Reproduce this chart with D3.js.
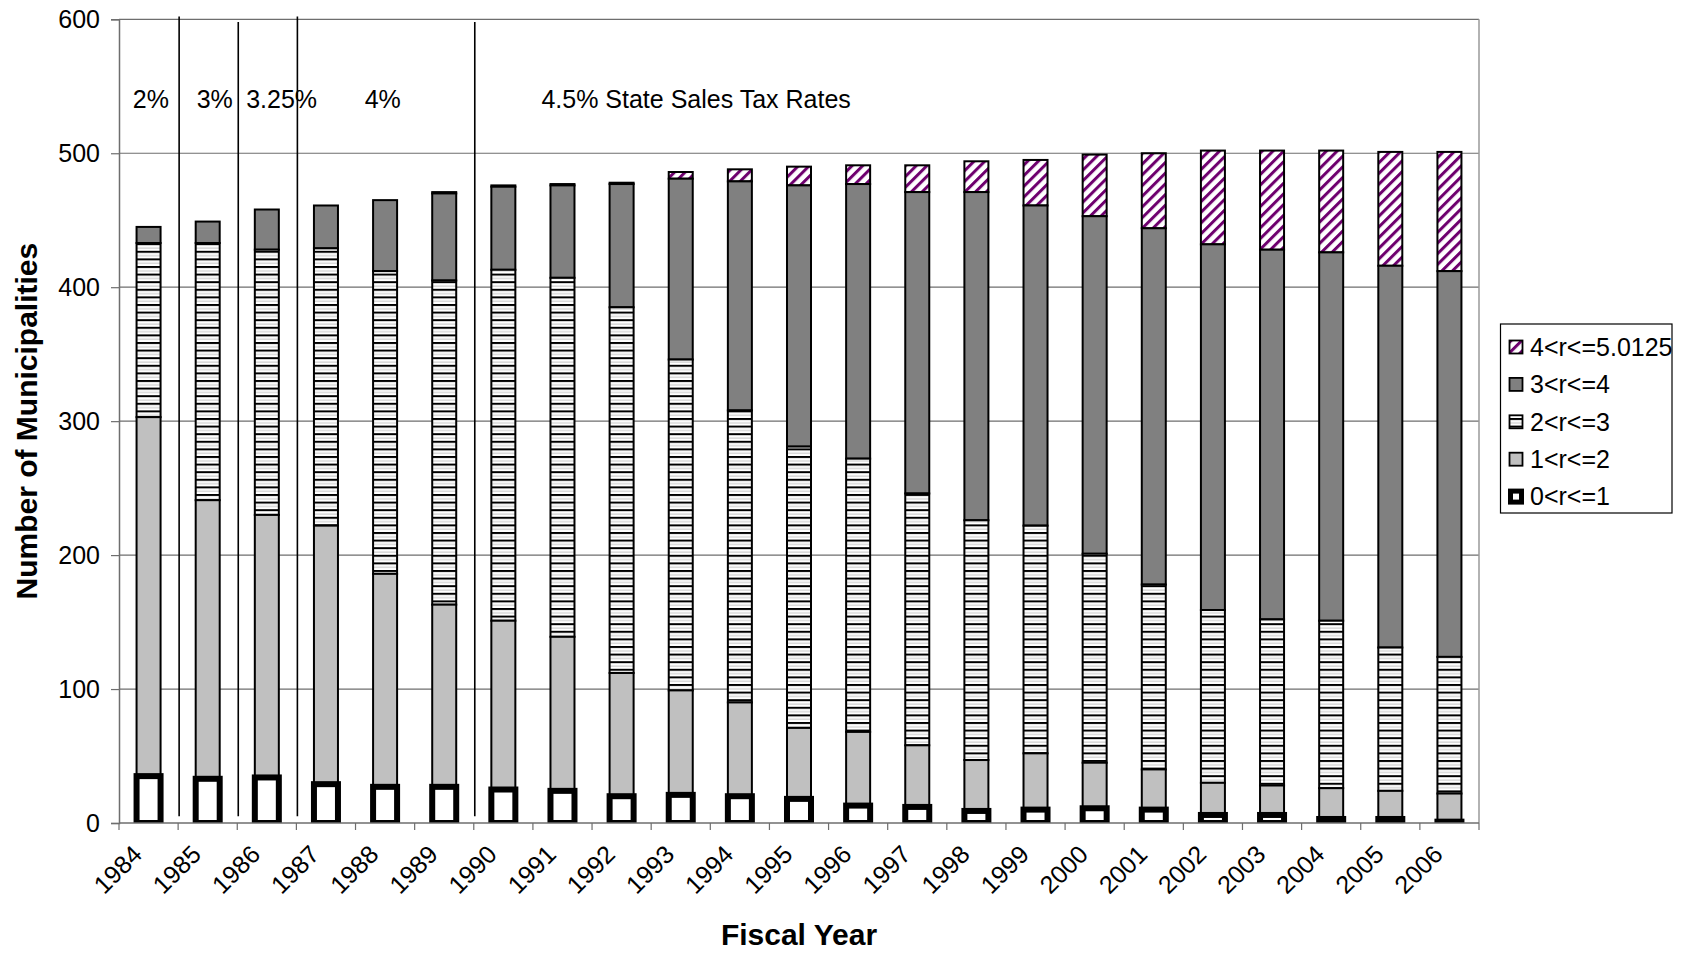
<!DOCTYPE html>
<html>
<head>
<meta charset="utf-8">
<script src="https://cdn.jsdelivr.net/npm/d3@7"></script>
<style>
  html, body { margin: 0; padding: 0; background: #fff; }
  svg { display: block; font-family: "Liberation Sans", Arial, sans-serif; }
</style>
</head>
<body>
<svg id="chart" width="1682" height="953"></svg>
<script>
// Fiscal years on the category axis
const years = ["1984","1985","1986","1987","1988","1989","1990","1991","1992","1993","1994","1995",
               "1996","1997","1998","1999","2000","2001","2002","2003","2004","2005","2006"];

// Number of municipalities in each local sales tax rate band (r, in percent)
const rate0to1 = [35,33,34,29,27,27,25,24,20,21,20,18,13,12,9,10,11,10,6,6,3,3,1];
const rate1to2 = [268,208,196,193,159,136,126,115,92,78,70,53,55,46,38,42,34,30,24,22,23,21,21];
const rate2to3 = [130,192,198,207,226,242,262,268,273,247,218,210,204,188,179,170,156,138,129,124,125,107,102];
const rate3to4 = [12,16,30,32,53,65,62,69,92,135,171,195,205,225,245,239,252,266,273,276,275,285,288];
const rate4to5 = [0,0,0,0,0,1,1,1,1,5,9,14,14,20,23,34,46,56,70,74,76,85,89];

const seriesKeys   = ["0<r<=1", "1<r<=2", "2<r<=3", "3<r<=4", "4<r<=5.0125"];
const seriesValues = [rate0to1, rate1to2, rate2to3, rate3to4, rate4to5];

// Y axis ticks
const yTicks = [0, 100, 200, 300, 400, 500, 600];

// State sales tax rate periods: separators drawn after these years, and period labels
const rateChangeAfter = ["1984", "1985", "1986", "1989"];
const separatorTop    = [602, 598, 602, 598];
const separatorBottom = 5;
const rateLabels      = ["2%", "3%", "3.25%", "4%", "4.5% State Sales Tax Rates"];
const rateLabelAt     = [0.04, 1.12, 2.25, 3.96, 9.26];   // position in category units
const rateLabelLevel  = 534;

// ---------------------------------------------------------------------------
const svg = d3.select("#chart");
const margin = { left: 119, right: 1479, top: 19.3, bottom: 823 };
const FONT = 25;

const table = years.map((y, i) => {
  const row = { year: y };
  seriesKeys.forEach((k, j) => row[k] = seriesValues[j][i]);
  return row;
});
const stacked = d3.stack().keys(seriesKeys)(table);

const x = d3.scaleBand()
  .domain(years)
  .range([margin.left, margin.right])
  .paddingInner(0.594)
  .paddingOuter(0.297);

const y = d3.scaleLinear()
  .domain([0, 600])
  .range([margin.bottom, margin.top]);

const step = x.step();
const catPos = u => margin.left + step * (u + 0.5);

// Fill patterns
const defs = svg.append("defs");

const hp = defs.append("pattern")
  .attr("id", "hstripe")
  .attr("patternUnits", "userSpaceOnUse")
  .attr("width", 8).attr("height", 7.6);
hp.append("rect").attr("width", 8).attr("height", 7.6).attr("fill", "#fff");
hp.append("rect").attr("y", 0).attr("width", 8).attr("height", 2).attr("fill", "#000");
hp.append("rect").attr("y", 4.4).attr("width", 8).attr("height", 0.9).attr("fill", "#bdbdbd");

const dp = defs.append("pattern")
  .attr("id", "dstripe")
  .attr("patternUnits", "userSpaceOnUse")
  .attr("width", 7.56).attr("height", 7.56)
  .attr("patternTransform", "rotate(45)");
dp.append("rect").attr("width", 7.56).attr("height", 7.56).attr("fill", "#fff");
dp.append("rect").attr("x", 0).attr("width", 3.0).attr("height", 7.56).attr("fill", "#6e006e");

defs.append("clipPath").attr("id", "plotClip")
  .append("rect")
  .attr("x", margin.left).attr("y", 0)
  .attr("width", margin.right - margin.left)
  .attr("height", margin.bottom);

const seriesStyle = {
  "0<r<=1":      { fill: "#ffffff", stroke: "#000", sw: 6 },
  "1<r<=2":      { fill: "#c0c0c0", stroke: "#000", sw: 2 },
  "2<r<=3":      { fill: "url(#hstripe)", stroke: "#000", sw: 2 },
  "3<r<=4":      { fill: "#808080", stroke: "#000", sw: 2 },
  "4<r<=5.0125": { fill: "url(#dstripe)", stroke: "#000", sw: 2 }
};

const axisColor = "#6e6e6e";

// Gridlines
svg.append("g")
  .selectAll("line")
  .data(yTicks.filter(t => t > 0))
  .join("line")
  .attr("x1", margin.left).attr("x2", margin.right)
  .attr("y1", d => y(d)).attr("y2", d => y(d))
  .attr("stroke", axisColor).attr("stroke-width", 1.2);

// Right border of the plot area
svg.append("line")
  .attr("x1", margin.right).attr("x2", margin.right)
  .attr("y1", y(600)).attr("y2", y(0))
  .attr("stroke", "#9a9a9a").attr("stroke-width", 1.5);

// Bars: drawn from the top band downwards so the heavy 0<r<=1 outline stays on top
const barLayer = svg.append("g").attr("clip-path", "url(#plotClip)");
stacked.slice().reverse().forEach(layer => {
  const st = seriesStyle[layer.key];
  barLayer.append("g")
    .selectAll("rect")
    .data(layer.filter(d => d[1] - d[0] > 0))
    .join("rect")
    .attr("x", d => x(d.data.year))
    .attr("width", x.bandwidth())
    .attr("y", d => y(d[1]))
    .attr("height", d => y(d[0]) - y(d[1]))
    .attr("fill", st.fill)
    .attr("stroke", st.stroke)
    .attr("stroke-width", st.sw);
});

// Y axis
const yAxis = svg.append("g")
  .attr("transform", `translate(${margin.left},0)`)
  .call(d3.axisLeft(y).tickValues(yTicks).tickSize(8).tickPadding(11).tickFormat(d3.format("d")));
yAxis.select(".domain").attr("stroke", axisColor).attr("stroke-width", 1.5);
yAxis.selectAll(".tick line").attr("stroke", axisColor).attr("stroke-width", 1.2);
yAxis.selectAll(".tick text")
  .attr("font-size", FONT).attr("fill", "#000")
  .attr("font-family", "Liberation Sans, Arial, sans-serif");

// X axis: ticks sit between categories, labels at the category centres
const xAxisG = svg.append("g");
xAxisG.append("line")
  .attr("x1", margin.left).attr("x2", margin.right)
  .attr("y1", y(0)).attr("y2", y(0))
  .attr("stroke", axisColor).attr("stroke-width", 1.5);
xAxisG.selectAll("line.tick")
  .data(d3.range(years.length + 1))
  .join("line")
  .attr("class", "tick")
  .attr("x1", i => margin.left + i * step).attr("x2", i => margin.left + i * step)
  .attr("y1", y(0)).attr("y2", y(0) + 7)
  .attr("stroke", axisColor).attr("stroke-width", 1.2);
xAxisG.selectAll("text")
  .data(years)
  .join("text")
  .attr("transform", d => `translate(${x(d) + x.bandwidth() / 2 - 5},${y(0) + 33}) rotate(-45)`)
  .attr("text-anchor", "end")
  .attr("font-size", FONT)
  .text(d => d);

// Rate period separators
svg.append("g")
  .selectAll("line")
  .data(rateChangeAfter.map((yr, i) => ({ yr, top: separatorTop[i] })))
  .join("line")
  .attr("x1", d => x(d.yr) + x.bandwidth() + (step - x.bandwidth()) / 2 + 1)
  .attr("x2", d => x(d.yr) + x.bandwidth() + (step - x.bandwidth()) / 2 + 1)
  .attr("y1", d => y(d.top))
  .attr("y2", y(separatorBottom))
  .attr("stroke", "#000").attr("stroke-width", 1.6);

// Rate period labels
svg.append("g")
  .selectAll("text")
  .data(rateLabels.map((t, i) => ({ t, u: rateLabelAt[i] })))
  .join("text")
  .attr("x", d => catPos(d.u))
  .attr("y", y(rateLabelLevel))
  .attr("text-anchor", "middle")
  .attr("font-size", FONT)
  .text(d => d.t);

// Axis titles
svg.append("text")
  .attr("transform", `translate(${26 + 10.5},${(margin.top + margin.bottom) / 2}) rotate(-90)`)
  .attr("text-anchor", "middle")
  .attr("font-size", 30).attr("font-weight", "bold")
  .text("Number of Municipalities");

svg.append("text")
  .attr("x", (margin.left + margin.right) / 2)
  .attr("y", 945)
  .attr("text-anchor", "middle")
  .attr("font-size", 30).attr("font-weight", "bold")
  .text("Fiscal Year");

// Legend (top band first)
const legend = svg.append("g");
legend.append("rect")
  .attr("x", 1500.5).attr("y", 324)
  .attr("width", 171.5).attr("height", 189)
  .attr("fill", "#fff").attr("stroke", "#000").attr("stroke-width", 1.2);

const legendKeys = seriesKeys.slice().reverse();
legendKeys.forEach((k, i) => {
  const cy = 347 + i * 37.4;
  const st = seriesStyle[k];
  const big = k === "0<r<=1";
  const s = big ? 11 : 13;
  legend.append("rect")
    .attr("x", 1516 - s / 2)
    .attr("y", cy - s / 2)
    .attr("width", s).attr("height", s)
    .attr("fill", st.fill)
    .attr("stroke", "#000")
    .attr("stroke-width", big ? 5 : 1.8);
  legend.append("text")
    .attr("x", 1530)
    .attr("y", cy)
    .attr("dy", "0.35em")
    .attr("font-size", FONT)
    .text(k);
});
</script>
</body>
</html>
